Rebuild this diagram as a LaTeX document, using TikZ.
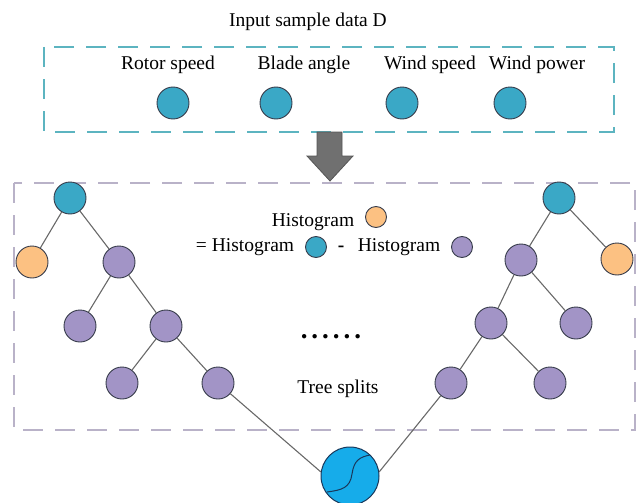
\documentclass[tikz,border=0pt]{standalone}
\usepackage{fontspec}
\setmainfont{Liberation Serif}
\definecolor{tealc}{RGB}{58,168,198}
\definecolor{orc}{RGB}{252,193,130}
\definecolor{purc}{RGB}{162,148,198}
\definecolor{bluec}{RGB}{22,172,234}
\definecolor{nodeline}{RGB}{55,60,75}
\definecolor{navyc}{RGB}{25,55,90}
\definecolor{edgec}{RGB}{105,105,105}
\definecolor{topdashc}{RGB}{92,180,192}
\definecolor{lowdashc}{RGB}{185,178,200}
\definecolor{arrowc}{RGB}{112,112,112}
\definecolor{arrowd}{RGB}{85,85,85}
\begin{document}
\begin{tikzpicture}[x=1pt,y=-1pt,
  txt/.style={font=\fontsize{19.5}{22}\selectfont, inner sep=0pt},
  tnode/.style={circle, draw=nodeline, line width=0.9pt, minimum size=32pt, inner sep=0pt},
  tealn/.style={tnode, fill=tealc},
  orn/.style={tnode, fill=orc},
  purn/.style={tnode, fill=purc},
  edge/.style={draw=edgec, line width=1.1pt},
  topbox/.style={draw=topdashc, line width=1.4pt, dash pattern=on 20pt off 12pt},
  lowbox/.style={draw=lowdashc, line width=1.4pt, dash pattern=on 20pt off 12pt},
]
\useasboundingbox (0,0) rectangle (637,503);

% top input box
\node[txt] (title) at (308,22) {Input sample data D};
\draw[topbox] (44,47) rectangle (614,132);
\node[txt] (l1) at (168,65) {Rotor speed};
\node[txt] (l2) at (304,65) {Blade angle};
\node[txt] (l3) at (430,65) {Wind speed};
\node[txt] (l4) at (537,65) {Wind power};
\node[tealn] (c1) at (173,103) {};
\node[tealn] (c2) at (276,103) {};
\node[tealn] (c3) at (402,103) {};
\node[tealn] (c4) at (510,103) {};

% big arrow
\draw[fill=arrowc, draw=arrowd, line width=0.8pt]
  (317,132) -- (342,132) -- (342,156) -- (353,156) -- (330,181) -- (307,156) -- (317,156) -- cycle;

% lower box
\draw[lowbox] (14,183) rectangle (635,430);

% left tree
\node[tealn] (L0) at (70,198) {};
\node[orn] (L1a) at (32,262) {};
\node[purn] (L1b) at (119,262) {};
\node[purn] (L2a) at (80,326) {};
\node[purn] (L2b) at (166,326) {};
\node[purn] (L3a) at (122,383) {};
\node[purn] (L3b) at (218,383) {};

% right tree
\node[tealn] (R0) at (559,198) {};
\node[purn] (R1a) at (521,260) {};
\node[orn] (R1b) at (617,259) {};
\node[purn] (R2a) at (491,323) {};
\node[purn] (R2b) at (576,323) {};
\node[purn] (R3a) at (451,383) {};
\node[purn] (R3b) at (550,383) {};

% bottom node
\node[circle, draw=navyc, line width=1pt, fill=bluec, minimum size=58pt, inner sep=0pt] (bot) at (350,476) {};
\draw[navyc, line width=1pt] (327,492) .. controls (342,490) and (350,488) .. (352,474)
  .. controls (354,460) and (360,457) .. (370,455);

% edges
\draw[edge] (L0) -- (L1a);
\draw[edge] (L0) -- (L1b);
\draw[edge] (L1b) -- (L2a);
\draw[edge] (L1b) -- (L2b);
\draw[edge] (L2b) -- (L3a);
\draw[edge] (L2b) -- (L3b);
\draw[edge] (L3b) -- (bot.172);
\draw[edge] (R0) -- (R1a);
\draw[edge] (R0) -- (R1b);
\draw[edge] (R1a) -- (R2a);
\draw[edge] (R1a) -- (R2b);
\draw[edge] (R2a) -- (R3a);
\draw[edge] (R2a) -- (R3b);
\draw[edge] (R3a) -- (bot.8);

% legend
\node[txt] (h1) at (313,222) {Histogram};
\node[orn, minimum size=21pt] (h1c) at (376,217) {};
\node[txt] (h2a) at (245,247) {= Histogram};
\node[tealn, minimum size=21pt] (h2b) at (316,247) {};
\node[txt, font=\fontsize{19.5}{22}\selectfont\bfseries] (h2m) at (341,249) {-};
\node[txt] (h2c) at (399,247) {Histogram};
\node[purn, minimum size=21pt] (h2d) at (462,247) {};

% dots and label
\node[font=\fontsize{27}{29}\selectfont\bfseries, inner sep=0pt, anchor=base] (dots) at (331,338)
  {.\hspace{4pt}.\hspace{4pt}.\hspace{4pt}.\hspace{4pt}.\hspace{4pt}.};
\node[txt] (ts) at (338,389) {Tree splits};
\end{tikzpicture}
\end{document}
